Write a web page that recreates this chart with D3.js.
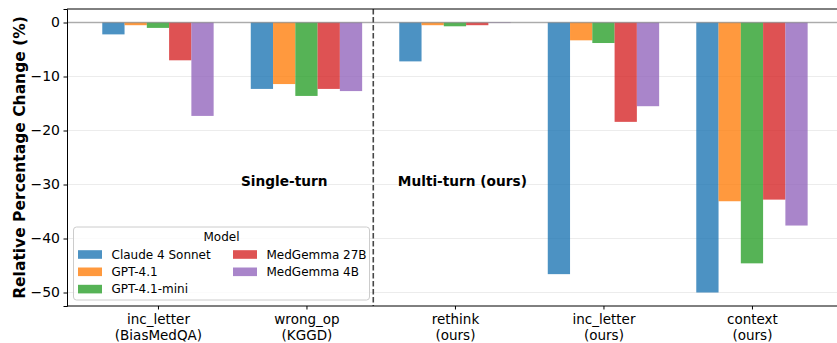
<!DOCTYPE html>
<html>
<head>
<meta charset="utf-8">
<script src="https://cdn.jsdelivr.net/npm/d3@7"></script>
<style>
  body { margin: 0; background: #fff; }
  svg { display: block; font-family: "DejaVu Sans", sans-serif; }
</style>
</head>
<body>
<svg id="chart" width="837" height="343"></svg>
<script>
// Attack scenarios (two-line tick labels)
const categories = ["inc_letter\n(BiasMedQA)", "wrong_op\n(KGGD)", "rethink\n(ours)", "inc_letter\n(ours)", "context\n(ours)"];
const models = ["Claude 4 Sonnet", "GPT-4.1", "GPT-4.1-mini", "MedGemma 27B", "MedGemma 4B"];
const colors = ["#1f77b4", "#ff7f0e", "#2ca02c", "#d62728", "#9467bd"];

// Relative percentage change per model, one array per scenario order above
const claude     = [-2.2, -12.3, -7.2, -46.6, -50.0];
const gpt41      = [-0.5, -11.4, -0.5, -3.3, -33.1];
const gpt41mini  = [-1.0, -13.6, -0.7, -3.8, -44.6];
const medgemma27 = [-7.0, -12.3, -0.5, -18.4, -32.8];
const medgemma4  = [-17.3, -12.7, -0.1, -15.5, -37.6];
const seriesValues = [claude, gpt41, gpt41mini, medgemma27, medgemma4];

const yTicks = [0, -10, -20, -30, -40, -50];
const dividerPos = 1.45;
const regionLabels = [{text: "Single-turn", x: 0.85}, {text: "Multi-turn (ours)", x: 2.05}];
const regionLabelY = -29.3;

const svg = d3.select("#chart");
const margin = {left: 67, top: 9, bottom: 306};
const barW = 0.15;
const xMin = -0.6125, xMax = 4.6125;
const pxPerUnit = 148.5;

const x = d3.scaleLinear().domain([xMin, xMax]).range([margin.left, margin.left + (xMax - xMin) * pxPerUnit]);
const y = d3.scaleLinear().domain([2.5, -52.5]).range([margin.top, margin.bottom]);
const right = x(xMax);

// gridlines
svg.append("g").selectAll("line").data(yTicks).join("line")
  .attr("x1", margin.left).attr("x2", right)
  .attr("y1", d => y(d)).attr("y2", d => y(d))
  .attr("stroke", "#b0b0b0").attr("stroke-opacity", 0.3).attr("stroke-width", 0.8);

// bars
const bars = svg.append("g");
seriesValues.forEach((vals, si) => {
  bars.selectAll(null).data(vals).join("rect")
    .attr("x", (d, i) => x(i + (si - 2) * barW - barW / 2))
    .attr("width", x(barW) - x(0))
    .attr("y", y(0))
    .attr("height", d => y(d) - y(0))
    .attr("fill", colors[si]).attr("fill-opacity", 0.8);
});

// zero reference line
svg.append("line")
  .attr("x1", margin.left).attr("x2", right)
  .attr("y1", y(0)).attr("y2", y(0))
  .attr("stroke", "#808080").attr("stroke-opacity", 0.6).attr("stroke-width", 1.5);

// single-turn / multi-turn divider
svg.append("line")
  .attr("x1", x(dividerPos)).attr("x2", x(dividerPos))
  .attr("y1", margin.top).attr("y2", margin.bottom)
  .attr("stroke", "#333").attr("stroke-opacity", 0.9)
  .attr("stroke-width", 1.6).attr("stroke-dasharray", "5.5,2.5");

svg.append("g").selectAll("text").data(regionLabels).join("text")
  .attr("x", d => x(d.x)).attr("y", y(regionLabelY))
  .attr("text-anchor", "middle").attr("dominant-baseline", "central")
  .attr("font-size", 13.7).attr("font-weight", "bold")
  .text(d => d.text);

// axes frame
svg.append("line").attr("x1", margin.left).attr("x2", right).attr("y1", margin.top).attr("y2", margin.top)
  .attr("stroke", "#000").attr("stroke-width", 1);
svg.append("line").attr("x1", margin.left).attr("x2", right).attr("y1", margin.bottom).attr("y2", margin.bottom)
  .attr("stroke", "#000").attr("stroke-width", 1);

// y axis
const yAxis = d3.axisLeft(y).tickValues(yTicks).tickSize(3.5).tickPadding(3.5)
  .tickFormat(d => d < 0 ? "\u2212" + Math.abs(d) : String(d));
const gy = svg.append("g").attr("transform", `translate(${margin.left},0)`).call(yAxis);
gy.select(".domain").attr("stroke", "#000");
gy.selectAll("text").attr("font-size", 14).attr("font-family", "DejaVu Sans").attr("fill", "#000");

// x axis
const xAxis = d3.axisBottom(x).tickValues(d3.range(categories.length)).tickSize(3.5).tickFormat("");
const gx = svg.append("g").attr("transform", `translate(0,${margin.bottom})`).call(xAxis);
gx.select(".domain").remove();
gx.selectAll(".tick").each(function(d, i) {
  const lines = categories[i].split("\n");
  const t = d3.select(this).append("text")
    .attr("fill", "#000").attr("font-size", 13.5).attr("font-family", "DejaVu Sans")
    .attr("text-anchor", "middle");
  lines.forEach((ln, j) => t.append("tspan").attr("x", 0).attr("y", 18 + j * 15.5).text(ln));
});

// y label
svg.append("text")
  .attr("transform", `translate(25,${(margin.top + margin.bottom) / 2}) rotate(-90)`)
  .attr("text-anchor", "middle").attr("font-size", 15.5).attr("font-weight", "bold")
  .text("Relative Percentage Change (%)");

// legend
const lg = svg.append("g").attr("transform", "translate(73.5,227)");
lg.append("rect").attr("width", 296).attr("height", 73).attr("rx", 3)
  .attr("fill", "#fff").attr("fill-opacity", 0.8).attr("stroke", "#ccc");
lg.append("text").attr("x", 148).attr("y", 10).attr("dominant-baseline", "central")
  .attr("text-anchor", "middle").attr("font-size", 12).text("Model");
models.forEach((m, i) => {
  const col = i < 3 ? 0 : 1;
  const row = i < 3 ? i : i - 3;
  const gx0 = col === 0 ? 4.5 : 159.5;
  const gy0 = 27.5 + row * 17.3;
  lg.append("rect").attr("x", gx0).attr("y", gy0 - 4.3).attr("width", 24).attr("height", 8.6)
    .attr("fill", colors[i]).attr("fill-opacity", 0.8);
  lg.append("text").attr("x", gx0 + 33.5).attr("y", gy0).attr("dominant-baseline", "central")
    .attr("font-size", 12).text(m);
});
</script>
</body>
</html>
